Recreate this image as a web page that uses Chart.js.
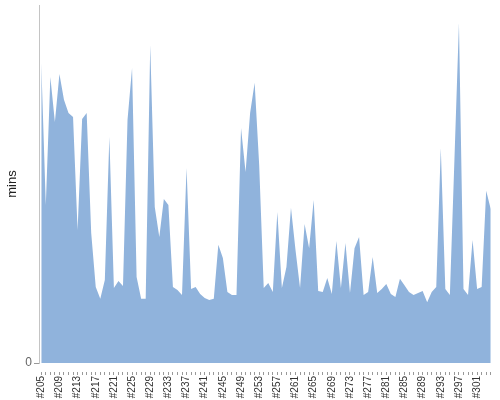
<!DOCTYPE html>
<html>
<head>
<meta charset="utf-8">
<script src="https://cdn.jsdelivr.net/npm/chart.js@4"></script>
<style>
  html, body { margin: 0; padding: 0; background: #fff; }
  #wrap { width: 500px; height: 400px; }
</style>
</head>
<body>
<div id="wrap"><canvas id="chart" width="500" height="400"></canvas></div>
<script>
// data: build numbers #205..#304, minutes per build
const firstBuild = 205;
const buildCount = 100;
const labels = [];
for (let i = 0; i < buildCount; i++) labels.push("#" + (firstBuild + i));

const mins = [
  100.6, 53.0, 95.9, 80.8, 96.9, 88.2, 83.8, 82.5, 44.6, 81.8,
  83.8, 43.6, 25.5, 21.5, 27.8, 75.8, 25.1, 27.5, 25.8, 81.5,
  98.9, 28.8, 21.5, 21.5, 106.6, 52.3, 42.2, 55.0, 53.0, 25.5,
  24.5, 22.8, 65.4, 24.8, 25.5, 23.1, 21.8, 21.1, 21.5, 39.6,
  35.2, 23.8, 22.8, 22.8, 78.8, 64.0, 83.8, 93.9, 66.4, 25.1,
  26.8, 23.8, 50.6, 25.1, 32.2, 52.0, 37.9, 25.1, 46.6, 38.5,
  54.6, 24.1, 23.8, 28.5, 23.1, 40.9, 25.1, 40.2, 23.5, 38.5,
  42.2, 22.8, 23.8, 35.5, 23.5, 24.8, 26.5, 23.1, 22.1, 28.2,
  26.1, 23.8, 22.8, 23.5, 24.1, 20.4, 23.8, 25.5, 72.1, 24.8,
  22.8, 68.0, 114.0, 24.8, 22.8, 41.2, 24.8, 25.5, 57.7, 51.6
];

const yTicks = [0];
const yMax = 120;
const labelEvery = 4;

const ctx = document.getElementById("chart").getContext("2d");
new Chart(ctx, {
  type: "line",
  data: {
    labels,
    datasets: [{
      label: "mins",
      data: mins,
      fill: "origin",
      backgroundColor: "#90b3dc",
      borderColor: "rgba(0,0,0,0)",
      borderWidth: 0,
      pointRadius: 0,
      tension: 0
    }]
  },
  options: {
    responsive: false,
    animation: false,
    layout: { padding: { top: 5, right: 7, left: 0, bottom: 0 } },
    plugins: { legend: { display: false }, tooltip: { enabled: false } },
    scales: {
      x: {
        offset: true,
        border: { display: false },
        grid: {
          drawOnChartArea: false,
          drawTicks: true,
          tickLength: 12,
          tickBorderDash: [0, 9, 3, 0],
          tickColor: "#999"
        },
        ticks: {
          autoSkip: false,
          maxRotation: 90,
          minRotation: 90,
          padding: 1,
          color: "#333",
          font: { family: "Liberation Sans, Arial, sans-serif", size: 10 },
          callback: (v, i) => (i % labelEvery === 0 ? labels[i] : "")
        },
        afterFit: s => {
          s.height = 37;
          s.paddingLeft = 0;
          s.paddingRight = 0;
        }
      },
      y: {
        min: 0,
        max: yMax,
        border: { display: true, color: "#c4c4c4" },
        grid: { drawOnChartArea: false, drawTicks: true, tickLength: 5, tickColor: "#999" },
        ticks: {
          color: "#666",
          padding: 2,
          font: { family: "Liberation Sans, Arial, sans-serif", size: 12 }
        },
        afterBuildTicks: s => { s.ticks = yTicks.map(v => ({ value: v })); },
        title: {
          display: true,
          text: "mins",
          color: "#222",
          padding: { top: 5, bottom: 0 },
          font: { family: "Liberation Sans, Arial, sans-serif", size: 13 }
        },
        afterFit: s => {
          s.width = 39;
          s.paddingTop = 0;
          s.paddingBottom = 0;
        }
      }
    }
  }
});
</script>
</body>
</html>
